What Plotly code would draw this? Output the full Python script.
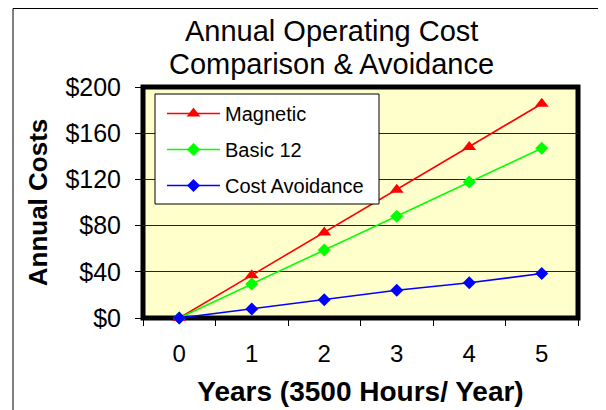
import plotly.graph_objects as go

years = ["0", "1", "2", "3", "4", "5"]
magnetic = [0, 37, 74, 111, 148, 185.5]
basic12 = [0, 29.4, 58.8, 88.2, 117.8, 147]
avoidance = [0, 7.8, 15.9, 24.0, 30.5, 38.5]
y_ticks = [0, 40, 80, 120, 160, 200]
y_tick_labels = ["$0", "$40", "$80", "$120", "$160", "$200"]

FONT = "Liberation Sans, Arial, sans-serif"
OFF = 8  # page body margin
W, H = 598, 402
L = 143 - OFF
T = 87 - OFF
R = W - (578 - OFF)
B = H - (318 - OFF)
PW, PH = W - L - R, H - T - B


def px(x):
    return (x - OFF - L) / PW


def py(y):
    return (H - B - (y - OFF)) / PH


fig = go.Figure()
series = [
    ("Magnetic", magnetic, "#FF0000", "triangle-up", 12),
    ("Basic 12", basic12, "#00FF00", "diamond", 10),
    ("Cost Avoidance", avoidance, "#0000FF", "diamond", 10),
]
for name, vals, col, sym, sz in series:
    fig.add_trace(go.Scatter(
        x=years, y=vals, name=name, mode="lines+markers",
        line=dict(color=col, width=1.6),
        marker=dict(symbol=sym, size=sz, color=col),
        legendgroup=name, cliponaxis=False,
    ))

shapes = [
    dict(type="rect", xref="paper", yref="paper", x0=px(13), x1=px(640),
         y0=py(440), y1=py(OFF + 0.5), line=dict(color="black", width=1), layer="below"),
    dict(type="rect", xref="paper", yref="paper", x0=0, x1=1, y0=0, y1=1,
         line=dict(color="black", width=5), layer="below"),
    dict(type="rect", xref="paper", yref="paper", x0=px(155), x1=px(379),
         y0=py(204), y1=py(94), fillcolor="white",
         line=dict(color="black", width=1), layer="above"),
]

annotations = [
    dict(text="Annual Operating Cost", x=px(331), y=py(31), xref="paper", yref="paper",
         xanchor="center", yanchor="middle", showarrow=False,
         font=dict(family=FONT, size=29, color="black")),
    dict(text="Comparison & Avoidance", x=px(331), y=py(64), xref="paper", yref="paper",
         xanchor="center", yanchor="middle", showarrow=False,
         font=dict(family=FONT, size=29, color="black")),
]

fig.update_layout(
    width=W, height=H,
    margin=dict(l=L, r=R, t=T, b=B, autoexpand=False),
    paper_bgcolor="white", plot_bgcolor="#FFFFCC",
    font=dict(family=FONT, color="black"),
    shapes=shapes, annotations=annotations,
    showlegend=True,
    legend=dict(x=px(162), y=py(94), xanchor="left", yanchor="top",
                bgcolor="rgba(0,0,0,0)", borderwidth=0,
                font=dict(family=FONT, size=20, color="black"),
                tracegroupgap=7, itemwidth=53),
    xaxis=dict(
        type="category", tickson="boundaries", ticks="outside", ticklen=7,
        tickcolor="black", tickwidth=1, showgrid=False, zeroline=False,
        showline=False, range=[-0.5, 5.5], automargin=False,
        ticklabelstandoff=19,
        tickfont=dict(family=FONT, size=24, color="black"),
        title=dict(text="Years (3500 Hours/ Year)", standoff=15,
                   font=dict(family=FONT, size=28, color="black", weight="bold")),
    ),
    yaxis=dict(
        range=[0, 200], tickvals=y_ticks, ticktext=y_tick_labels,
        ticks="outside", ticklen=7, tickcolor="black", tickwidth=1,
        showgrid=True, gridcolor="#222222", gridwidth=1, zeroline=False,
        showline=False, ticklabelstandoff=9, automargin=False,
        tickfont=dict(family=FONT, size=25, color="black"),
        title=dict(text="Annual Costs", standoff=10,
                   font=dict(family=FONT, size=26, color="black", weight="bold")),
    ),
)

fig.write_html("out.html")
